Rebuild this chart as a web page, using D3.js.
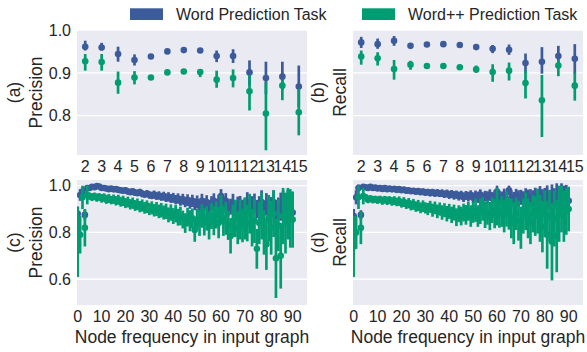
<!DOCTYPE html>
<html>
<head>
<meta charset="utf-8">
<script src="https://cdnjs.cloudflare.com/ajax/libs/d3/7.8.5/d3.min.js"></script>
<style>
  body { margin: 0; background: #fff; }
  text { font-family: "Liberation Sans", Arial, sans-serif; fill: #262626; }
</style>
</head>
<body>
<svg id="chart" width="587" height="352"></svg>
<script>
// ---- data ----
const seriesNames = ['Word Prediction Task', 'Word++ Prediction Task'];
const wordLengths = [2, 3, 4, 5, 6, 7, 8, 9, 10, 11, 12, 13, 14, 15];

// (a) precision by word length
const wordPrecA   = [0.961, 0.959, 0.944, 0.930, 0.938, 0.950, 0.953, 0.952, 0.939, 0.939, 0.901, 0.888, 0.891, 0.868];
const wordPrecALo = [0.952, 0.952, 0.926, 0.917, 0.934, 0.946, 0.949, 0.948, 0.925, 0.923, 0.870, 0.850, 0.860, 0.820];
const wordPrecAHi = [0.975, 0.970, 0.961, 0.943, 0.942, 0.954, 0.957, 0.956, 0.952, 0.955, 0.929, 0.926, 0.926, 0.917];
const plusPrecA   = [0.927, 0.925, 0.877, 0.889, 0.889, 0.901, 0.903, 0.902, 0.884, 0.888, 0.857, 0.805, 0.870, 0.808];
const plusPrecALo = [0.905, 0.905, 0.851, 0.873, 0.885, 0.897, 0.899, 0.890, 0.865, 0.866, 0.812, 0.719, 0.836, 0.754];
const plusPrecAHi = [0.944, 0.944, 0.903, 0.904, 0.893, 0.905, 0.907, 0.908, 0.905, 0.908, 0.895, 0.878, 0.884, 0.862];

// (b) recall by word length
const wordRecB   = [0.971, 0.967, 0.975, 0.963, 0.966, 0.967, 0.965, 0.960, 0.956, 0.954, 0.923, 0.926, 0.939, 0.933];
const wordRecBLo = [0.958, 0.956, 0.963, 0.958, 0.962, 0.963, 0.961, 0.956, 0.946, 0.942, 0.900, 0.898, 0.913, 0.898];
const wordRecBHi = [0.984, 0.980, 0.986, 0.968, 0.970, 0.971, 0.969, 0.964, 0.965, 0.966, 0.945, 0.960, 0.963, 0.967];
const plusRecB   = [0.938, 0.934, 0.909, 0.919, 0.916, 0.916, 0.913, 0.908, 0.902, 0.905, 0.876, 0.836, 0.917, 0.870];
const plusRecBLo = [0.919, 0.917, 0.884, 0.907, 0.912, 0.912, 0.909, 0.900, 0.879, 0.882, 0.840, 0.750, 0.892, 0.835];
const plusRecBHi = [0.952, 0.948, 0.930, 0.928, 0.920, 0.920, 0.917, 0.917, 0.920, 0.924, 0.905, 0.895, 0.930, 0.901];

// node frequency 0..90
const nodeFreq = d3.range(0, 91);

// (c) precision by node frequency
const wordPrecC = [0.88, 0.96, 0.975, 0.875, 0.99, 0.99, 0.995, 0.993, 0.998, 0.996,
  0.99, 0.99, 0.988, 0.985, 0.987, 0.984, 0.985, 0.982, 0.98, 0.978,
  0.98, 0.975, 0.972, 0.976, 0.97, 0.968, 0.972, 0.965, 0.962, 0.966,
  0.96, 0.958, 0.962, 0.955, 0.958, 0.952, 0.955, 0.948, 0.952, 0.945,
  0.948, 0.94, 0.945, 0.935, 0.942, 0.93, 0.938, 0.925, 0.935, 0.92,
  0.93, 0.915, 0.935, 0.92, 0.93, 0.91, 0.925, 0.935, 0.915, 0.93,
  0.955, 0.92, 0.935, 0.905, 0.91, 0.925, 0.9, 0.915, 0.92, 0.9,
  0.91, 0.93, 0.905, 0.915, 0.925, 0.9, 0.91, 0.93, 0.895, 0.92,
  0.89, 0.905, 0.93, 0.88, 0.9, 0.91, 0.925, 0.9, 0.93, 0.91, 0.885];
const wordPrecCErr = [0.03, 0.025, 0.02, 0.02, 0.01, 0.008, 0.008, 0.007, 0.008, 0.009,
  0.008, 0.009, 0.01, 0.009, 0.01, 0.01, 0.01, 0.011, 0.012, 0.011,
  0.012, 0.013, 0.012, 0.013, 0.014, 0.013, 0.014, 0.015, 0.014, 0.015,
  0.016, 0.016, 0.017, 0.016, 0.018, 0.017, 0.019, 0.018, 0.02, 0.019,
  0.021, 0.02, 0.022, 0.021, 0.023, 0.022, 0.025, 0.024, 0.026, 0.025,
  0.028, 0.027, 0.03, 0.026, 0.029, 0.028, 0.03, 0.032, 0.029, 0.031,
  0.03, 0.035, 0.033, 0.036, 0.034, 0.04, 0.035, 0.038, 0.036, 0.04,
  0.037, 0.042, 0.038, 0.04, 0.041, 0.039, 0.045, 0.05, 0.042, 0.048,
  0.055, 0.046, 0.05, 0.058, 0.049, 0.06, 0.052, 0.065, 0.05, 0.058, 0.045];
const plusPrecC = [0.76, 0.79, 0.95, 0.82, 0.96, 0.955, 0.95, 0.955, 0.948, 0.952,
  0.945, 0.95, 0.94, 0.945, 0.938, 0.942, 0.935, 0.94, 0.93, 0.935,
  0.925, 0.93, 0.92, 0.925, 0.915, 0.92, 0.91, 0.915, 0.905, 0.91,
  0.9, 0.905, 0.895, 0.9, 0.89, 0.895, 0.885, 0.89, 0.875, 0.885,
  0.87, 0.88, 0.865, 0.87, 0.855, 0.84, 0.865, 0.85, 0.86, 0.81,
  0.855, 0.84, 0.87, 0.845, 0.86, 0.83, 0.87, 0.85, 0.875, 0.84,
  0.9, 0.85, 0.86, 0.83, 0.785, 0.85, 0.86, 0.82, 0.855, 0.83,
  0.86, 0.84, 0.88, 0.82, 0.85, 0.73, 0.84, 0.87, 0.8, 0.75,
  0.86, 0.82, 0.88, 0.69, 0.83, 0.70, 0.87, 0.84, 0.88, 0.86, 0.855];
const plusPrecCErr = [0.15, 0.08, 0.05, 0.08, 0.04, 0.015, 0.016, 0.015, 0.017, 0.016,
  0.018, 0.017, 0.018, 0.019, 0.018, 0.02, 0.02, 0.021, 0.02, 0.022,
  0.021, 0.023, 0.022, 0.024, 0.023, 0.025, 0.024, 0.026, 0.025, 0.027,
  0.026, 0.028, 0.027, 0.03, 0.029, 0.031, 0.03, 0.033, 0.032, 0.035,
  0.034, 0.037, 0.036, 0.04, 0.038, 0.042, 0.04, 0.045, 0.042, 0.05,
  0.045, 0.055, 0.05, 0.058, 0.052, 0.06, 0.055, 0.062, 0.058, 0.065,
  0.06, 0.065, 0.07, 0.062, 0.075, 0.068, 0.08, 0.07, 0.085, 0.072,
  0.09, 0.078, 0.085, 0.08, 0.095, 0.085, 0.09, 0.1, 0.095, 0.11,
  0.1, 0.115, 0.1, 0.17, 0.11, 0.14, 0.12, 0.13, 0.11, 0.125, 0.12];

// (d) recall by node frequency
const wordRecD = [0.87, 0.95, 0.99, 0.875, 0.995, 0.993, 0.99, 0.995, 0.99, 0.992,
  0.988, 0.99, 0.986, 0.99, 0.985, 0.988, 0.984, 0.986, 0.982, 0.985,
  0.98, 0.983, 0.978, 0.98, 0.976, 0.978, 0.974, 0.977, 0.972, 0.975,
  0.97, 0.973, 0.968, 0.972, 0.966, 0.97, 0.965, 0.968, 0.962, 0.967,
  0.96, 0.965, 0.958, 0.962, 0.955, 0.96, 0.95, 0.958, 0.953, 0.96,
  0.948, 0.958, 0.95, 0.962, 0.945, 0.955, 0.95, 0.96, 0.945, 0.955,
  0.975, 0.95, 0.945, 0.96, 0.94, 0.98, 0.95, 0.94, 0.955, 0.945,
  0.95, 0.94, 0.955, 0.945, 0.95, 0.94, 0.955, 0.945, 0.96, 0.94,
  0.95, 0.955, 0.94, 0.955, 0.945, 0.96, 0.94, 0.955, 0.95, 0.945, 0.935];
const wordRecDErr = [0.03, 0.03, 0.015, 0.02, 0.008, 0.007, 0.007, 0.006, 0.007, 0.008,
  0.007, 0.008, 0.008, 0.007, 0.009, 0.008, 0.009, 0.009, 0.01, 0.009,
  0.01, 0.01, 0.011, 0.01, 0.011, 0.012, 0.011, 0.012, 0.012, 0.013,
  0.012, 0.013, 0.014, 0.013, 0.014, 0.015, 0.014, 0.016, 0.015, 0.016,
  0.017, 0.016, 0.018, 0.017, 0.019, 0.018, 0.02, 0.019, 0.021, 0.02,
  0.022, 0.021, 0.024, 0.022, 0.025, 0.023, 0.026, 0.024, 0.027, 0.025,
  0.025, 0.028, 0.03, 0.027, 0.032, 0.02, 0.03, 0.033, 0.031, 0.035,
  0.032, 0.036, 0.034, 0.038, 0.035, 0.04, 0.036, 0.042, 0.038, 0.045,
  0.04, 0.046, 0.042, 0.05, 0.044, 0.05, 0.048, 0.055, 0.05, 0.058, 0.045];
const plusRecD = [0.74, 0.80, 0.95, 0.82, 0.955, 0.95, 0.94, 0.945, 0.94, 0.942,
  0.938, 0.942, 0.935, 0.94, 0.935, 0.938, 0.932, 0.936, 0.93, 0.934,
  0.925, 0.93, 0.92, 0.925, 0.915, 0.92, 0.91, 0.915, 0.905, 0.912,
  0.905, 0.9, 0.91, 0.895, 0.905, 0.89, 0.9, 0.885, 0.895, 0.88,
  0.89, 0.875, 0.885, 0.865, 0.88, 0.87, 0.885, 0.875, 0.89, 0.87,
  0.885, 0.895, 0.87, 0.89, 0.9, 0.875, 0.885, 0.87, 0.895, 0.88,
  0.91, 0.88, 0.89, 0.87, 0.9, 0.88, 0.86, 0.84, 0.88, 0.85,
  0.82, 0.87, 0.89, 0.86, 0.84, 0.88, 0.87, 0.89, 0.86, 0.825,
  0.88, 0.79, 0.87, 0.76, 0.86, 0.785, 0.88, 0.9, 0.87, 0.89, 0.90];
const plusRecDErr = [0.13, 0.07, 0.05, 0.07, 0.035, 0.014, 0.015, 0.014, 0.016, 0.015,
  0.016, 0.015, 0.017, 0.016, 0.018, 0.017, 0.018, 0.019, 0.018, 0.02,
  0.019, 0.021, 0.02, 0.022, 0.021, 0.023, 0.022, 0.024, 0.023, 0.025,
  0.024, 0.026, 0.025, 0.028, 0.027, 0.029, 0.028, 0.031, 0.03, 0.033,
  0.032, 0.035, 0.034, 0.038, 0.036, 0.04, 0.038, 0.042, 0.04, 0.046,
  0.044, 0.05, 0.046, 0.054, 0.05, 0.056, 0.052, 0.06, 0.055, 0.062,
  0.08, 0.06, 0.066, 0.07, 0.075, 0.068, 0.085, 0.09, 0.07, 0.085,
  0.09, 0.075, 0.08, 0.085, 0.09, 0.08, 0.085, 0.095, 0.1, 0.11,
  0.1, 0.145, 0.11, 0.165, 0.12, 0.155, 0.12, 0.1, 0.11, 0.1, 0.095];

// ---- layout ----
const colors = ['#3b5b9b', '#009d72'];
const bg = '#eaeaf2';
const svg = d3.select('#chart');

const cols = [{ left: 77, right: 307 }, { left: 353, right: 583 }];
const rows = [{ top: 30, bottom: 155 }, { top: 180, bottom: 305 }];

const yTop = d3.scaleLinear().domain([0.708, 1.0]).range([rows[0].bottom, rows[0].top]);
const yBottom = d3.scaleLinear().domain([0.49, 1.024]).range([rows[1].bottom, rows[1].top]);

function panel(id, col, row, x, y, yTicks, showYTicks, label, metric, series) {
  const g = svg.append('g');
  const w = col.right - col.left;
  const h = row.bottom - row.top;

  g.append('rect')
    .attr('x', col.left).attr('y', row.top)
    .attr('width', w).attr('height', h)
    .attr('fill', bg);

  // horizontal grid
  g.selectAll('.grid')
    .data(yTicks)
    .enter().append('line')
    .attr('x1', col.left).attr('x2', col.right)
    .attr('y1', d => y(d)).attr('y2', d => y(d))
    .attr('stroke', '#fff').attr('stroke-width', 1.3);

  if (showYTicks) {
    g.selectAll('.ytick')
      .data(yTicks)
      .enter().append('text')
      .attr('x', col.left - 6)
      .attr('y', d => y(d))
      .attr('dy', '0.36em')
      .attr('text-anchor', 'end')
      .style('font-size', '16px')
      .text(d => d3.format('.1f')(d));
  }

  // two-line rotated y label
  const cy = (row.top + row.bottom) / 2;
  const baseX = col.left - (showYTicks ? 35.5 : 7);
  g.append('text')
    .attr('transform', `translate(${baseX - 22},${cy}) rotate(-90)`)
    .attr('text-anchor', 'middle')
    .style('font-size', '17.5px')
    .text(label);
  g.append('text')
    .attr('transform', `translate(${baseX},${cy}) rotate(-90)`)
    .attr('text-anchor', 'middle')
    .style('font-size', '17.5px')
    .text(metric);

  svg.append('clipPath').attr('id', id)
    .append('rect')
    .attr('x', col.left).attr('y', row.top)
    .attr('width', w).attr('height', h);

  const marks = g.append('g').attr('clip-path', `url(#${id})`);
  series.forEach((s, si) => {
    const sg = marks.append('g');
    sg.selectAll('line')
      .data(s.xs)
      .enter().append('line')
      .attr('x1', d => x(d)).attr('x2', d => x(d))
      .attr('y1', (d, i) => y(s.lo[i])).attr('y2', (d, i) => y(s.hi[i]))
      .attr('stroke', colors[si]).attr('stroke-width', 2.7);
    sg.selectAll('circle')
      .data(s.xs)
      .enter().append('circle')
      .attr('cx', d => x(d)).attr('cy', (d, i) => y(s.vals[i]))
      .attr('r', 3.3)
      .attr('fill', colors[si]);
  });
  return g;
}

// top row: word length categories
cols.forEach((col, ci) => {
  const x = d3.scalePoint().domain(wordLengths).range([col.left, col.right]).padding(0.5);
  const series = ci === 0
    ? [{ xs: wordLengths, vals: wordPrecA, lo: wordPrecALo, hi: wordPrecAHi },
       { xs: wordLengths, vals: plusPrecA, lo: plusPrecALo, hi: plusPrecAHi }]
    : [{ xs: wordLengths, vals: wordRecB, lo: wordRecBLo, hi: wordRecBHi },
       { xs: wordLengths, vals: plusRecB, lo: plusRecBLo, hi: plusRecBHi }];
  panel('clip-top-' + ci, col, rows[0], x, yTop, [0.8, 0.9, 1.0], ci === 0,
    ci === 0 ? '(a)' : '(b)', ci === 0 ? 'Precision' : 'Recall', series);

  svg.append('g').selectAll('text')
    .data(wordLengths)
    .enter().append('text')
    .attr('x', d => x(d)).attr('y', 171.5)
    .attr('text-anchor', 'middle')
    .style('font-size', '16px')
    .text(d => d);
});

// bottom row: node frequency
cols.forEach((col, ci) => {
  const x = d3.scaleLinear().domain([-0.3, 96]).range([col.left, col.right]);
  const withErr = (vals, err) => ({
    xs: nodeFreq, vals: vals,
    lo: vals.map((v, i) => v - err[i]),
    hi: vals.map((v, i) => v + err[i])
  });
  const series = ci === 0
    ? [withErr(wordPrecC, wordPrecCErr), withErr(plusPrecC, plusPrecCErr)]
    : [withErr(wordRecD, wordRecDErr), withErr(plusRecD, plusRecDErr)];
  panel('clip-bot-' + ci, col, rows[1], x, yBottom, [0.6, 0.8, 1.0], ci === 0,
    ci === 0 ? '(c)' : '(d)', ci === 0 ? 'Precision' : 'Recall', series);

  svg.append('g').selectAll('text')
    .data(d3.range(0, 91, 10))
    .enter().append('text')
    .attr('x', d => x(d)).attr('y', 321.7)
    .attr('text-anchor', 'middle')
    .style('font-size', '16px')
    .text(d => d);

  svg.append('text')
    .attr('x', (col.left + col.right) / 2).attr('y', 343)
    .attr('text-anchor', 'middle')
    .style('font-size', '17.5px')
    .text('Node frequency in input graph');
});

// legend
const legendX = [130, 362];
seriesNames.forEach((name, i) => {
  svg.append('rect')
    .attr('x', legendX[i]).attr('y', 8.3)
    .attr('width', 33).attr('height', 11.7)
    .attr('fill', colors[i]);
  svg.append('text')
    .attr('x', legendX[i] + 46).attr('y', 20)
    .style('font-size', '16px')
    .text(name);
});
</script>
</body>
</html>
